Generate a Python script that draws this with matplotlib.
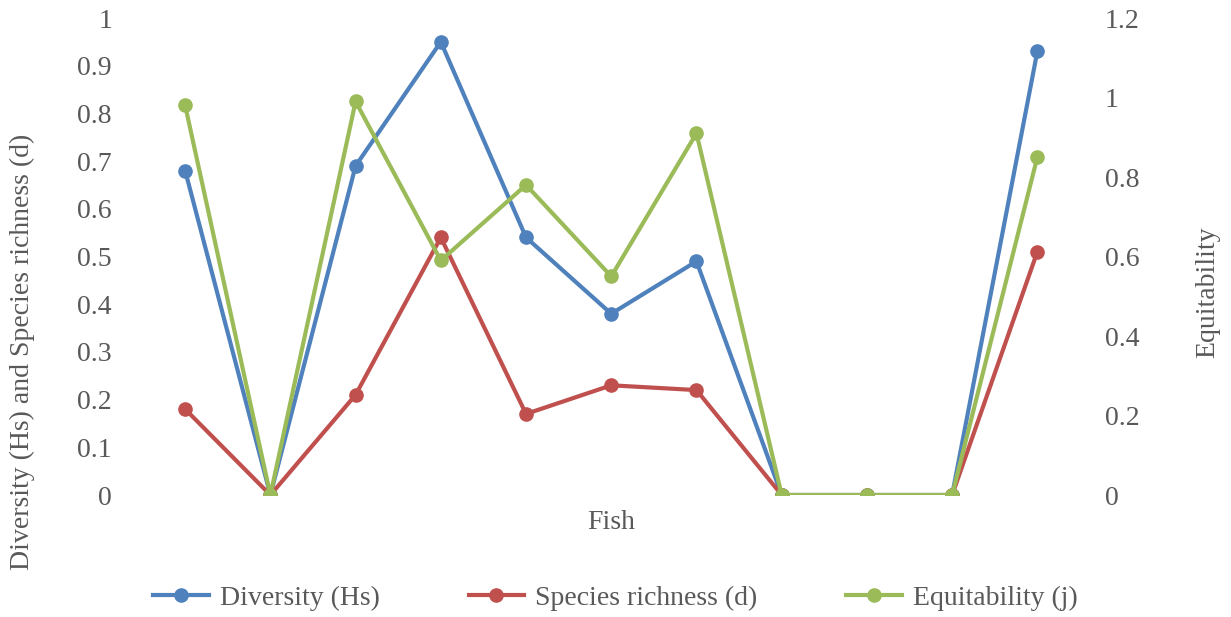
import matplotlib
matplotlib.use("Agg")
import matplotlib.pyplot as plt
import numpy as np

# values (11 fish samples, no category labels shown)
n_points = 11
diversity = [0.68, 0.0, 0.69, 0.95, 0.54, 0.38, 0.49, 0.0, 0.0, 0.0, 0.93]
richness = [0.18, 0.0, 0.21, 0.54, 0.17, 0.23, 0.22, 0.0, 0.0, 0.0, 0.51]
equitability = [0.98, 0.0, 0.99, 0.59, 0.78, 0.55, 0.91, 0.0, 0.0, 0.0, 0.85]
left_ticks = [0, 0.1, 0.2, 0.3, 0.4, 0.5, 0.6, 0.7, 0.8, 0.9, 1]
right_ticks = [0, 0.2, 0.4, 0.6, 0.8, 1, 1.2]

plt.rcParams['font.family'] = ['Liberation Serif', 'DejaVu Serif']
fs = 20
txt = '#595959'
blue = '#4F81BD'
red = '#C0504D'
green = '#9BBB59'

fig = plt.figure(figsize=(12.31, 6.17), dpi=100)
ax = fig.add_axes([0.1158, 0.1977, 0.7615, 0.7731])
ax2 = ax.twinx()

x = np.arange(n_points)
l1, = ax.plot(x, diversity, color=blue, lw=3, marker='o', ms=9.5, label='Diversity (Hs)')
l2, = ax.plot(x, richness, color=red, lw=3, marker='o', ms=9.5, label='Species richness (d)')
l3, = ax2.plot(x, equitability, color=green, lw=3, marker='o', ms=9.5, label='Equitability (j)')

ax.set_xlim(-0.5, n_points - 0.5)
ax.set_ylim(0, 1)
ax2.set_ylim(0, 1.2)
ax.set_yticks(left_ticks)
ax.set_yticklabels([f'{v:g}' for v in left_ticks])
ax2.set_yticks(right_ticks)
ax2.set_yticklabels([f'{v:g}' for v in right_ticks])
ax.set_xticks([])

for a in (ax, ax2):
    for s in a.spines.values():
        s.set_visible(False)
    a.tick_params(axis='y', length=0, labelsize=fs, labelcolor=txt)
ax.tick_params(axis='y', pad=22)
ax2.tick_params(axis='y', pad=18)

ax.set_xlabel('Fish', fontsize=fs, color=txt, labelpad=11)
fig.text(0.018, 0.43, 'Diversity (Hs) and Species richness (d)', rotation=90,
         ha='center', va='center', fontsize=fs, color=txt)
fig.text(0.981, 0.527, 'Equitability', rotation=90,
         ha='center', va='center', fontsize=fs, color=txt)

fig.legend(handles=[l1, l2, l3], loc='center', bbox_to_anchor=(0.5, 0.03), ncol=3,
           frameon=False, fontsize=fs, labelcolor=txt, handlelength=2.0,
           columnspacing=3.2, handletextpad=0.4)

fig.savefig('out.png', dpi=100)
